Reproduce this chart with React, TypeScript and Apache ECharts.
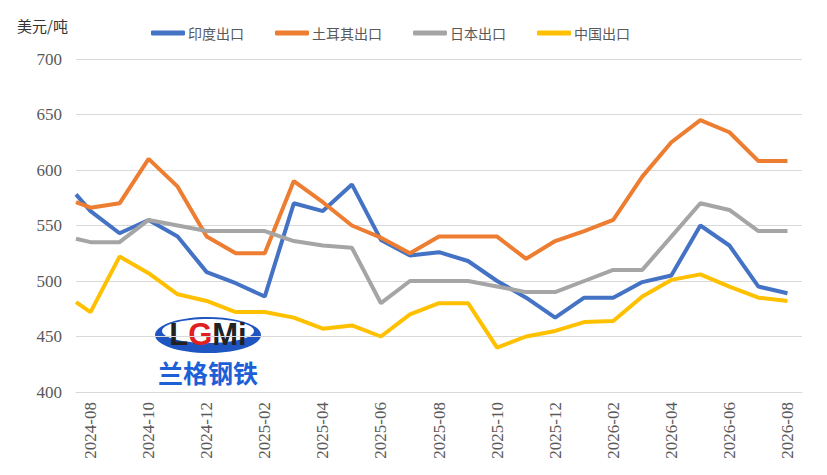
import React, { useEffect, useRef } from "react";
import * as echarts from "echarts";

const months = [
  "2024-08", "2024-09", "2024-10", "2024-11", "2024-12",
  "2025-01", "2025-02", "2025-03", "2025-04", "2025-05", "2025-06",
  "2025-07", "2025-08", "2025-09", "2025-10", "2025-11", "2025-12",
  "2026-01", "2026-02", "2026-03", "2026-04", "2026-05", "2026-06",
  "2026-07", "2026-08",
];

// value at the left edge of the axis, then one value per month
const indiaStart = 578;
const india = [563, 543, 555, 540, 508, 498, 486, 570, 563, 587, 537, 523, 526, 518, 500, 485, 467, 485, 485, 499, 505, 550, 532, 495, 489];
const turkeyStart = 571;
const turkey = [566, 570, 610, 585, 540, 525, 525, 590, 571, 550, 539, 525, 540, 540, 540, 520, 536, 545, 555, 594, 625, 645, 634, 608, 608];
const japanStart = 538;
const japan = [535, 535, 555, 550, 545, 545, 545, 536, 532, 530, 480, 500, 500, 500, 495, 490, 490, 500, 510, 510, 540, 570, 564, 545, 545];
const chinaStart = 481;
const china = [472, 522, 507, 488, 482, 472, 472, 467, 457, 460, 450, 470, 480, 480, 440, 450, 455, 463, 464, 486, 501, 506, 495, 485, 482];

const seriesDefs = [
  { name: "印度出口", start: indiaStart, values: india, color: "#4472C4" },
  { name: "土耳其出口", start: turkeyStart, values: turkey, color: "#ED7D31" },
  { name: "日本出口", start: japanStart, values: japan, color: "#A5A5A5" },
  { name: "中国出口", start: chinaStart, values: china, color: "#FFC000" },
];

const App: React.FC = () => {
  const chartRef = useRef<HTMLDivElement>(null);

  useEffect(() => {
    document.body.style.margin = "0";
    if (!chartRef.current) return undefined;
    const chart = echarts.init(chartRef.current, undefined, { renderer: "svg" });

    const options: echarts.EChartsOption = {
      animation: false,
      backgroundColor: "#ffffff",
      grid: { left: 76, right: 25, top: 59, bottom: 83 },
      legend: {
        left: 146,
        top: 21,
        itemGap: 31,
        itemWidth: 34,
        itemHeight: 5,
        icon: "roundRect",
        textStyle: { color: "#595959", fontSize: 14, fontFamily: "Noto Sans CJK SC", padding: [0, 0, 0, -2] },
        data: seriesDefs.map((s) => s.name),
      },
      xAxis: [
        {
          type: "category",
          data: months,
          boundaryGap: true,
          axisLine: { lineStyle: { color: "#d9d9d9", width: 1 } },
          axisTick: { interval: 1, length: 4, lineStyle: { color: "#d9d9d9" } },
          axisLabel: {
            interval: 1,
            rotate: 90,
            margin: 10,
            color: "#595959",
            fontSize: 17,
            fontFamily: "Liberation Serif",
          },
          splitLine: { show: false },
        },
        {
          type: "value",
          min: 0,
          max: months.length,
          show: false,
          splitLine: { show: false },
        },
      ],
      yAxis: {
        type: "value",
        min: 400,
        max: 700,
        interval: 50,
        axisLine: { show: false },
        axisTick: { show: false },
        axisLabel: {
          margin: 14,
          color: "#595959",
          fontSize: 17,
          fontFamily: "Liberation Serif",
        },
        splitLine: { lineStyle: { color: "#d9d9d9", width: 1 } },
      },
      graphic: [
        {
          type: "text",
          left: 17,
          top: 18,
          style: { text: "美元/吨", fill: "#333333", fontSize: 15, fontFamily: "Noto Sans CJK SC" },
        },
        {
          type: "group",
          left: 155,
          top: 317,
          z: 100,
          children: [
            { type: "ellipse", shape: { cx: 53, cy: 18, rx: 53, ry: 18 }, style: { fill: "#1f55c0" } },
            { type: "ellipse", shape: { cx: 53, cy: 14, rx: 46, ry: 12 }, style: { fill: "#ffffff" } },
            {
              type: "text",
              x: 53,
              y: 17,
              style: {
                text: "{a|L}{b|G}{a|Mi}",
                align: "center",
                verticalAlign: "middle",
                rich: {
                  a: { fontSize: 31, fontWeight: "bold", fill: "#222222", fontFamily: "Liberation Sans" },
                  b: { fontSize: 31, fontWeight: "bold", fill: "#e02020", fontFamily: "Liberation Sans" },
                },
              },
            },
            {
              type: "text",
              x: 53,
              y: 42,
              style: {
                text: "兰格钢铁",
                align: "center",
                fill: "#1d5fd6",
                fontSize: 25,
                fontWeight: "bold",
                fontFamily: "Noto Sans CJK SC",
              },
            },
          ],
        },
      ],
      series: seriesDefs.map((s) => ({
        name: s.name,
        type: "line",
        xAxisIndex: 1,
        showSymbol: false,
        symbol: "none",
        lineStyle: { color: s.color, width: 4 },
        itemStyle: { color: s.color },
        data: [[0, s.start], ...s.values.map((v, i) => [i + 0.5, v])],
      })),
    };
    chart.setOption(options);

    return () => {
      chart.dispose();
    };
  }, []);

  return <div ref={chartRef} style={{ width: "827px", height: "475px" }} />;
};

export default App;
